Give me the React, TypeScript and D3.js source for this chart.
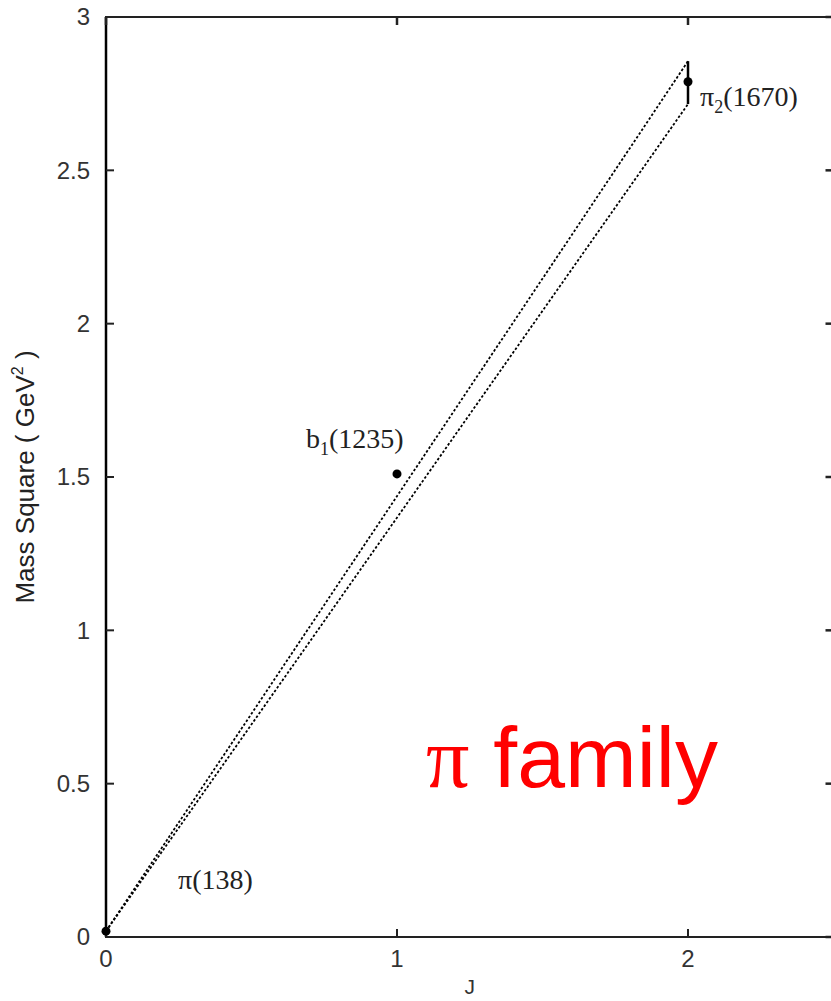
import React from "react";
import * as d3 from "d3";

// Regge trajectory of the pi family: J vs mass squared (GeV^2)
const stateNames = ["π", "b", "π"];
const stateSubs = ["", "1", "2"];
const stateMasses = ["138", "1235", "1670"];
const stateJ = [0, 1, 2];
const stateMassSq = [0.019, 1.51, 2.789];

// error band on the J = 2 state
const errJ = 2;
const errLow = 2.716;
const errHigh = 2.856;

// upper and lower trajectory lines
const upperLine: [number, number][] = [
  [0, 0.019],
  [2, 2.856],
];
const lowerLine: [number, number][] = [
  [0, 0.019],
  [2, 2.716],
];

const xTicks = [0, 1, 2];
const yTicks = [0, 0.5, 1, 1.5, 2, 2.5, 3];
const yTickLabels = ["0", "0.5", "1", "1.5", "2", "2.5", "3"];

const W = 831;
const H = 1001;
const left = 106;
const top = 17;
const bottom = 937;
const right = left + 2.5 * 291;

// label offsets (px) relative to each state's point
const labelDx = [72, -91, 12];
const labelDy = [-42, -26, 24];

export default function App() {
  const x = d3.scaleLinear().domain([0, 2.5]).range([left, right]);
  const y = d3.scaleLinear().domain([0, 3]).range([bottom, top]);
  const line = d3
    .line<[number, number]>()
    .x((d) => x(d[0]))
    .y((d) => y(d[1]));

  const sans = "'Liberation Sans', Arial, sans-serif";
  const serif = "'Liberation Serif', 'Times New Roman', serif";
  const tickLen = 8;

  return (
    <svg
      width={W}
      height={H}
      style={{ position: "absolute", left: 0, top: 0, background: "#fff" }}
    >
      {/* frame */}
      <rect
        x={left}
        y={top}
        width={right - left}
        height={bottom - top}
        fill="none"
        stroke="#222"
        strokeWidth={2}
      />
      <line x1={left} x2={left} y1={top} y2={bottom} stroke="#000" strokeWidth={2.5} />

      {/* y ticks, both sides */}
      {yTicks.map((t, i) => (
        <g key={"y" + i}>
          <line x1={left} x2={left + tickLen} y1={y(t)} y2={y(t)} stroke="#222" strokeWidth={2} />
          <line x1={right} x2={right - tickLen} y1={y(t)} y2={y(t)} stroke="#222" strokeWidth={2.5} />
          <text
            x={left - 16}
            y={y(t)}
            dy="0.35em"
            textAnchor="end"
            fontFamily={sans}
            fontSize={24}
            fill="#333"
          >
            {yTickLabels[i]}
          </text>
        </g>
      ))}

      {/* x ticks, top and bottom */}
      {xTicks.map((t, i) => (
        <g key={"x" + i}>
          <line x1={x(t)} x2={x(t)} y1={bottom} y2={bottom - tickLen} stroke="#222" strokeWidth={2} />
          <line x1={x(t)} x2={x(t)} y1={top} y2={top + tickLen} stroke="#222" strokeWidth={2.5} />
          <text
            x={x(t)}
            y={bottom + 30}
            textAnchor="middle"
            fontFamily={sans}
            fontSize={24}
            fill="#333"
          >
            {String(t)}
          </text>
        </g>
      ))}

      {/* axis titles */}
      <text
        x={(left + right) / 2}
        y={994}
        textAnchor="middle"
        fontFamily={sans}
        fontSize={21}
        fill="#333"
      >
        J
      </text>
      <text
        transform={`translate(34, ${(top + bottom) / 2}) rotate(-90)`}
        textAnchor="middle"
        fontFamily={sans}
        fontSize={26}
        fill="#222"
      >
        Mass Square ( GeV
        <tspan fontSize={16} dy={-11}>2</tspan>
        <tspan dy={11}> )</tspan>
      </text>

      {/* trajectories */}
      {[upperLine, lowerLine].map((l, i) => (
        <path
          key={"l" + i}
          d={line(l) || ""}
          fill="none"
          stroke="#000"
          strokeWidth={1.8}
          strokeDasharray="2.5,2"
        />
      ))}

      {/* error bar */}
      <line
        x1={x(errJ)}
        x2={x(errJ)}
        y1={y(errLow)}
        y2={y(errHigh)}
        stroke="#000"
        strokeWidth={2.5}
      />

      {/* states */}
      {stateJ.map((j, i) => (
        <g key={"s" + i}>
          <circle cx={x(j)} cy={y(stateMassSq[i])} r={4.5} fill="#000" />
          <text
            x={x(j) + labelDx[i]}
            y={y(stateMassSq[i]) + labelDy[i]}
            fontFamily={serif}
            fontSize={28}
            fill="#222"
          >
            {stateNames[i]}
            {stateSubs[i] ? (
              <tspan fontSize={18} dy={7}>
                {stateSubs[i]}
              </tspan>
            ) : null}
            <tspan dy={stateSubs[i] ? -7 : 0}>({stateMasses[i]})</tspan>
          </text>
        </g>
      ))}

      {/* family title */}
      <text x={426} y={787} fontSize={86} fill="#ff0000">
        <tspan fontFamily={serif}>π</tspan>
        <tspan fontFamily={sans}> family</tspan>
      </text>
    </svg>
  );
}
